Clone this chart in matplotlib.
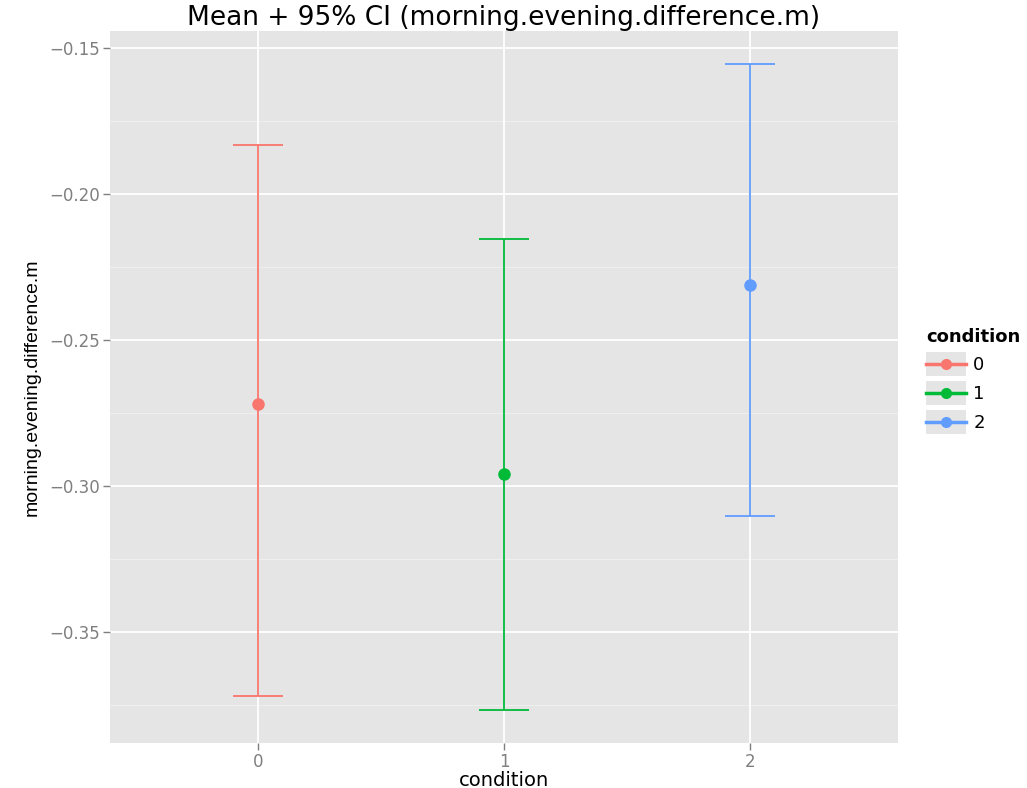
import matplotlib
matplotlib.use("Agg")
import matplotlib.pyplot as plt
from matplotlib.lines import Line2D
from matplotlib.patches import Rectangle
from matplotlib.legend_handler import HandlerLine2D


conditions = ["0", "1", "2"]
means = [-0.2719, -0.2960, -0.2312]
ci_low = [-0.3719, -0.3767, -0.3103]
ci_high = [-0.1831, -0.2154, -0.1554]
colors = ["#F8766D", "#00BA38", "#619CFF"]
yticks = [-0.35, -0.30, -0.25, -0.20, -0.15]
ytick_labels = ["\u22120.35", "\u22120.30", "\u22120.25", "\u22120.20", "\u22120.15"]

plt.rcParams["font.family"] = ["DejaVu Sans"]


class GreyKeyHandler(HandlerLine2D):
    def create_artists(self, legend, orig_handle, xdescent, ydescent,
                       width, height, fontsize, trans):
        bg = Rectangle((-xdescent, -ydescent - 4), width, height + 8,
                       facecolor="#E5E5E5", edgecolor="none", transform=trans)
        arts = super().create_artists(legend, orig_handle, xdescent, ydescent,
                                      width, height, fontsize, trans)
        return [bg] + arts


fig = plt.figure(figsize=(10.27, 7.88), dpi=100)
ax = fig.add_axes([0.1071, 0.0571, 0.7673, 0.9036])
ax.set_facecolor("#E5E5E5")

# grid
for y in yticks:
    ax.axhline(y, color="white", lw=1.3, zorder=0)
for y in [-0.375, -0.325, -0.275, -0.225, -0.175]:
    ax.axhline(y, color="#F2F2F2", lw=0.6, zorder=0)
for i in range(len(conditions)):
    ax.axvline(i, color="white", lw=1.3, zorder=0)

for i, c in enumerate(conditions):
    ax.errorbar(i, means[i],
                yerr=[[means[i] - ci_low[i]], [ci_high[i] - means[i]]],
                fmt="o", color=colors[i], ms=8, elinewidth=1.3,
                capsize=18, capthick=1.3, zorder=3)

ax.set_xlim(-0.6, 2.6)
ax.set_ylim(-0.388, -0.1442)
ax.set_xticks(range(len(conditions)))
ax.set_xticklabels(conditions)
ax.set_yticks(yticks)
ax.set_yticklabels(ytick_labels)
ax.tick_params(colors="#7F7F7F", labelcolor="#7F7F7F", labelsize=12,
               length=5, width=1, pad=2)
for s in ax.spines.values():
    s.set_visible(False)

ax.set_title("Mean + 95% CI (morning.evening.difference.m)",
             fontsize=19, pad=2)
ax.set_xlabel("condition", fontsize=14, labelpad=0)
ax.set_ylabel("morning.evening.difference.m", fontsize=14, labelpad=6,
              family="Liberation Sans")

handles = [Line2D([0], [0], color=col, marker="o", ms=7, lw=2.5)
           for col in colors]
leg = ax.legend(handles, conditions, title="condition", frameon=False,
                loc="center left", bbox_to_anchor=(1.036, 0.51),
                fontsize=13, handlelength=2.2, handletextpad=0.4,
                labelspacing=0.6, borderaxespad=0, borderpad=0,
                handler_map={Line2D: GreyKeyHandler()})
leg.get_title().set_fontweight("bold")
leg.get_title().set_fontsize(13)
leg._legend_box.align = "left"

fig.savefig("out.png", dpi=100)
